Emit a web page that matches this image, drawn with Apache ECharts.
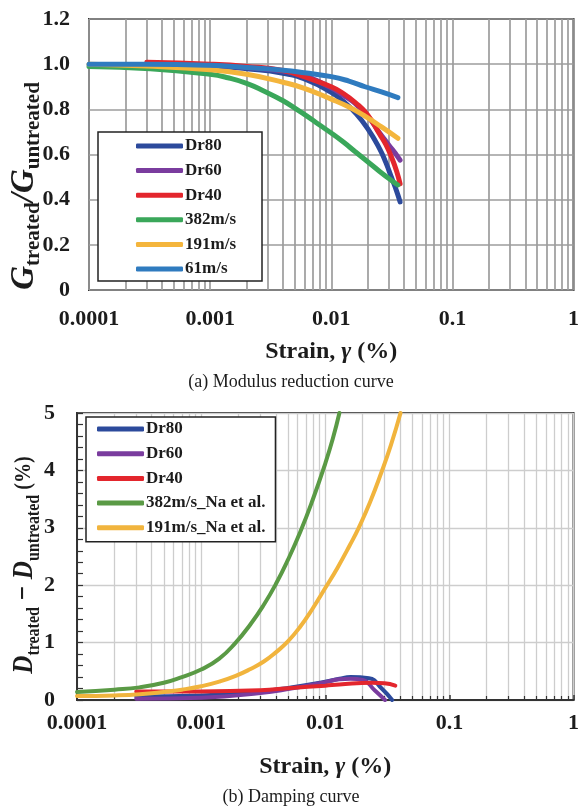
<!DOCTYPE html>
<html>
<head>
<meta charset="utf-8">
<script src="https://cdn.jsdelivr.net/npm/echarts@6/dist/echarts.min.js"></script>
<style>
  html, body { margin: 0; padding: 0; background: #fff; }
  #chart { width: 582px; height: 812px; }
</style>
</head>
<body>
<div id="chart"></div>
<script>
// ---- Modulus reduction, G_treated / G_untreated ----
const strainFieldG = [0.0001, 0.0003, 0.001, 0.002, 0.004, 0.006, 0.01, 0.014, 0.019, 0.026, 0.0355];
const strainG382 = [0.0001, 0.00032, 0.001, 0.0014, 0.002, 0.0028, 0.004, 0.005, 0.0063, 0.0079, 0.01, 0.0126, 0.0158, 0.02, 0.0251, 0.0316, 0.0355];
const strainDrG = [0.0003, 0.001, 0.002, 0.004, 0.0063, 0.01, 0.0126, 0.0158, 0.02, 0.0251, 0.0282, 0.0316, 0.0347, 0.037];
const gDr80 = [1.0, 0.992, 0.98, 0.96, 0.93, 0.875, 0.835, 0.785, 0.715, 0.625, 0.565, 0.495, 0.437, 0.39];
const gDr60 = [1.003, 0.995, 0.985, 0.97, 0.945, 0.895, 0.862, 0.825, 0.77, 0.695, 0.66, 0.625, 0.597, 0.575];
const gDr40 = [1.008, 1.0, 0.99, 0.972, 0.94, 0.9, 0.87, 0.83, 0.775, 0.69, 0.645, 0.585, 0.525, 0.47];
const g382 = [0.99, 0.98, 0.955, 0.94, 0.915, 0.88, 0.838, 0.805, 0.77, 0.733, 0.695, 0.655, 0.612, 0.568, 0.525, 0.484, 0.465];
const g191 = [1.0, 0.992, 0.975, 0.955, 0.92, 0.893, 0.845, 0.81, 0.77, 0.722, 0.672];
const g61 = [1.0, 1.0, 0.995, 0.985, 0.973, 0.962, 0.945, 0.925, 0.9, 0.877, 0.852];

// ---- Damping difference, D_treated - D_untreated (%) ----
const strainD382 = [0.0001, 0.0002, 0.00032, 0.0005, 0.0007, 0.001, 0.0014, 0.0019, 0.0025, 0.0032, 0.004, 0.005, 0.0063, 0.0079, 0.01, 0.0115, 0.013];
const d382 = [0.14, 0.18, 0.22, 0.30, 0.40, 0.53, 0.72, 1.0, 1.32, 1.66, 2.02, 2.44, 2.93, 3.48, 4.12, 4.55, 5.0];
const strainD191 = [0.0001, 0.0002, 0.00032, 0.0005, 0.0007, 0.001, 0.0014, 0.0019, 0.0025, 0.0032, 0.004, 0.005, 0.0063, 0.0079, 0.01, 0.0126, 0.0158, 0.0186, 0.0229, 0.0285, 0.0339, 0.0404];
const d191 = [0.07, 0.08, 0.1, 0.14, 0.18, 0.24, 0.32, 0.42, 0.54, 0.67, 0.83, 1.02, 1.28, 1.59, 1.95, 2.31, 2.7, 3.0, 3.44, 3.98, 4.45, 5.0];
const strainDDr80 = [0.0003, 0.001, 0.003, 0.0053, 0.01, 0.013, 0.016, 0.0225, 0.0285, 0.0346];
const dDr80 = [0.06, 0.08, 0.15, 0.22, 0.32, 0.37, 0.40, 0.38, 0.2, 0.0];
const strainDDr60 = [0.0003, 0.001, 0.003, 0.0053, 0.01, 0.013, 0.016, 0.02, 0.025, 0.0303];
const dDr60 = [0.02, 0.04, 0.12, 0.2, 0.31, 0.36, 0.37, 0.35, 0.17, 0.0];
const strainDDr40 = [0.0003, 0.001, 0.003, 0.0053, 0.01, 0.013, 0.024, 0.03, 0.0367];
const dDr40 = [0.15, 0.15, 0.17, 0.21, 0.25, 0.27, 0.30, 0.29, 0.25];

// ---- tick labels ----
const strainTicks = ['0.0001', '0.001', '0.01', '0.1', '1'];
const gTicks = ['0', '0.2', '0.4', '0.6', '0.8', '1.0', '1.2'];
const dTicks = ['0', '1', '2', '3', '4', '5'];

const legendTop = ['Dr80', 'Dr60', 'Dr40', '382m/s', '191m/s', '61m/s'];
const legendBottom = ['Dr80', 'Dr60', 'Dr40', '382m/s_Na et al.', '191m/s_Na et al.'];

const C = {
  dr80: '#2c4a9c', dr60: '#7a3c9e', dr40: '#e3262d',
  g382: '#3aa75a', g191: '#f4b53c', g61: '#2f7bbf',
  d382: '#5a9a45', d191: '#f1b43d'
};

const SERIF = '"Liberation Serif", "Times New Roman", serif';
const INK = '#1c1c1c';

function pairs(xs, ys) { return xs.map((x, i) => [x, ys[i]]); }
function logLabel(v) { return strainTicks[Math.round(Math.log10(v)) + 4] || ''; }

function line(name, xs, ys, color, width, axis) {
  return {
    name, type: 'line', smooth: 0.5, showSymbol: false, clip: true,
    xAxisIndex: axis, yAxisIndex: axis,
    data: pairs(xs, ys),
    lineStyle: { color, width, cap: 'round' },
    itemStyle: { color }
  };
}

const tickFont = { fontFamily: SERIF, fontWeight: 'bold', fontSize: 22, color: INK };
const nameRich = {
  b: { fontFamily: SERIF, fontWeight: 'bold', fontSize: 24, color: INK },
  i: { fontFamily: SERIF, fontWeight: 'bold', fontStyle: 'italic', fontSize: 24, color: INK }
};

const chart = echarts.init(document.getElementById('chart'), null, { renderer: 'canvas' });

chart.setOption({
  animation: false,
  backgroundColor: '#fff',
  grid: [
    { left: 89, top: 19, width: 488, height: 271, show: true, borderColor: '#333', borderWidth: 2, containLabel: false },
    { left: 77, top: 413, width: 505, height: 287, show: true, borderColor: '#333', borderWidth: 2, containLabel: false }
  ],
  xAxis: [
    {
      type: 'log', logBase: 10, min: 0.0001, max: 1, gridIndex: 0,
      axisLine: { show: false }, axisTick: { show: false },
      minorTick: { show: false, splitNumber: 9 },
      splitLine: { show: true, lineStyle: { color: '#9c9c9c', width: 1.7 } },
      minorSplitLine: { show: true, lineStyle: { color: '#9c9c9c', width: 1.7 } },
      axisLabel: { ...tickFont, margin: 18, formatter: logLabel },
      name: '{b|Strain, }{i|γ}{b| (%)}', nameLocation: 'middle', nameGap: 50,
      nameTextStyle: { rich: nameRich }
    },
    {
      type: 'log', logBase: 10, min: 0.0001, max: 1, gridIndex: 1,
      axisLine: { show: true, lineStyle: { color: '#333', width: 2 } },
      axisTick: { show: true, inside: true, length: 5, lineStyle: { color: '#333', width: 1.5 } },
      minorTick: { show: true, splitNumber: 9, length: 4, lineStyle: { color: '#333', width: 1.2 } },
      splitLine: { show: true, lineStyle: { color: '#cdcdcd', width: 1.3 } },
      minorSplitLine: { show: true, lineStyle: { color: '#cdcdcd', width: 1.3 } },
      axisLabel: { ...tickFont, margin: 12, formatter: logLabel },
      name: '{b|Strain, }{i|γ}{b| (%)}', nameLocation: 'middle', nameGap: 55,
      nameTextStyle: { rich: nameRich }
    }
  ],
  yAxis: [
    {
      type: 'value', min: 0, max: 1.2, interval: 0.2, gridIndex: 0,
      axisLine: { show: false }, axisTick: { show: false },
      splitLine: { show: true, lineStyle: { color: '#9c9c9c', width: 1.7 } },
      axisLabel: { ...tickFont, margin: 19, formatter: (v) => gTicks[Math.round(v / 0.2)] }
    },
    {
      type: 'value', min: 0, max: 5, interval: 1, gridIndex: 1,
      axisLine: { show: true, lineStyle: { color: '#333', width: 2 } },
      axisTick: { show: true, inside: true, length: 6, lineStyle: { color: '#333', width: 1.2 } },
      minorTick: { show: true, splitNumber: 5, length: 6, lineStyle: { color: '#333', width: 1.2 } },
      splitLine: { show: true, lineStyle: { color: '#cdcdcd', width: 1.3 } },
      axisLabel: { ...tickFont, margin: 22, formatter: (v) => dTicks[Math.round(v)] }
    }
  ],
  legend: [
    {
      data: legendTop, orient: 'vertical', left: 98, top: 132,
      padding: [5.5, 26, 3.5, 38], itemWidth: 47, itemHeight: 5, itemGap: 7.6,
      icon: 'roundRect', selectedMode: false,
      borderColor: '#222', borderWidth: 1.5, backgroundColor: '#fff',
      textStyle: { fontFamily: SERIF, fontWeight: 'bold', fontSize: 17, lineHeight: 17, color: INK, padding: [0, 0, 0, -3] }
    },
    {
      data: legendBottom, orient: 'vertical', left: 86, top: 417,
      padding: [3.5, 10, 5.5, 11], itemWidth: 47, itemHeight: 5, itemGap: 7.7,
      icon: 'roundRect', selectedMode: false,
      borderColor: '#222', borderWidth: 1.5, backgroundColor: '#fff',
      textStyle: { fontFamily: SERIF, fontWeight: 'bold', fontSize: 17, lineHeight: 17, color: INK, padding: [0, 0, 0, -3] }
    }
  ],
  graphic: [
    {
      type: 'text', x: 24, y: 186, rotation: Math.PI / 2,
      style: {
        text: '{G|G}{s|treated}{G|/G}{s|untreated}',
        align: 'center', verticalAlign: 'middle',
        rich: {
          G: { fontFamily: SERIF, fontWeight: 'bold', fontStyle: 'italic', fontSize: 33, lineHeight: 40, fill: INK },
          s: { fontFamily: SERIF, fontWeight: 'bold', fontSize: 21, lineHeight: 21, verticalAlign: 'bottom', fill: INK }
        }
      }
    },
    {
      type: 'text', x: 24, y: 565, rotation: Math.PI / 2, scaleX: 0.84,
      style: {
        text: '{G|D}{s|treated}{G| − D}{s|untreated}{p| (%)}',
        align: 'center', verticalAlign: 'middle',
        rich: {
          G: { fontFamily: SERIF, fontWeight: 'bold', fontStyle: 'italic', fontSize: 30, lineHeight: 40, fill: INK },
          s: { fontFamily: SERIF, fontWeight: 'bold', fontSize: 19, lineHeight: 20, verticalAlign: 'bottom', fill: INK },
          p: { fontFamily: SERIF, fontWeight: 'bold', fontSize: 24, lineHeight: 40, fill: INK }
        }
      }
    },
    {
      type: 'text', x: 291, y: 382,
      style: { text: '(a) Modulus reduction curve', align: 'center', verticalAlign: 'middle',
               fontFamily: SERIF, fontSize: 18, fill: INK }
    },
    {
      type: 'text', x: 291, y: 797,
      style: { text: '(b) Damping curve', align: 'center', verticalAlign: 'middle',
               fontFamily: SERIF, fontSize: 18, fill: INK }
    }
  ],
  series: [
    line('Dr80', strainDrG, gDr80, C.dr80, 5, 0),
    line('Dr60', strainDrG, gDr60, C.dr60, 5, 0),
    line('Dr40', strainDrG, gDr40, C.dr40, 5, 0),
    line('382m/s', strainG382, g382, C.g382, 5, 0),
    line('191m/s', strainFieldG, g191, C.g191, 5, 0),
    line('61m/s', strainFieldG, g61, C.g61, 5, 0),

    line('Dr80', strainDDr80, dDr80, C.dr80, 4, 1),
    line('Dr60', strainDDr60, dDr60, C.dr60, 4, 1),
    line('Dr40', strainDDr40, dDr40, C.dr40, 4, 1),
    line('382m/s_Na et al.', strainD382, d382, C.d382, 4, 1),
    line('191m/s_Na et al.', strainD191, d191, C.d191, 4, 1)
  ]
});
</script>
</body>
</html>
